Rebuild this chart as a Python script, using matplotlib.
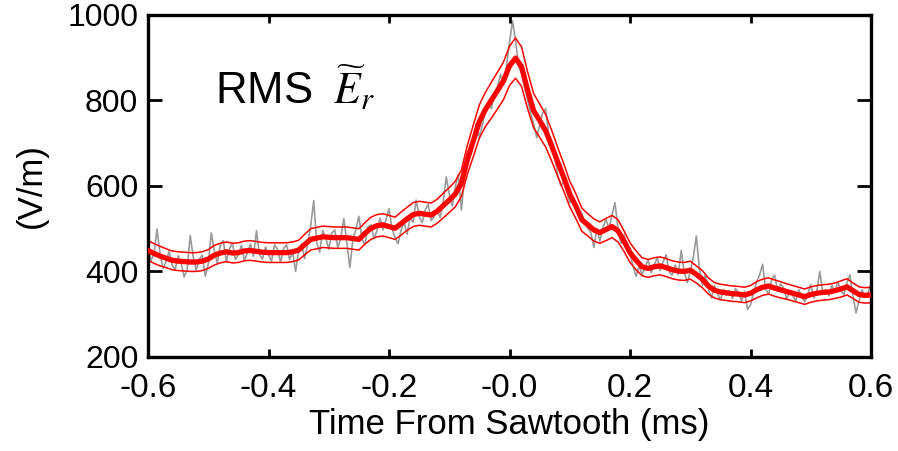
import matplotlib
matplotlib.use("Agg")
import matplotlib.pyplot as plt
import numpy as np

# Сырой сигнал (серый), шаг 0.005 мс от -0.6 до 0.6
e_raw = [
    458, 424, 440, 498, 440, 406, 422, 446, 414, 403, 436, 419, 386, 404, 483, 434,
    402, 427, 437, 388, 416, 489, 449, 418, 461, 471, 422, 451, 466, 427, 438, 460,
    425, 443, 463, 434, 494, 438, 428, 456, 438, 423, 461, 451, 421, 453, 461, 427,
    445, 399, 447, 463, 429, 463, 505, 565, 466, 444, 495, 477, 451, 489, 496, 454,
    478, 523, 466, 408, 474, 497, 528, 476, 461, 503, 508, 476, 494, 523, 496, 520,
    546, 499, 478, 464, 495, 515, 486, 524, 514, 566, 528, 513, 543, 556, 518, 528,
    542, 525, 563, 620, 580, 553, 595, 627, 543, 614, 678, 694, 713, 746, 712, 743,
    775, 790, 780, 815, 830, 860, 835, 880, 935, 985, 940, 880, 862, 830, 800, 770,
    745, 712, 740, 770, 780, 720, 690, 668, 625, 600, 608, 585, 560, 572, 550, 530,
    535, 512, 500, 490, 455, 500, 470, 502, 520, 500, 530, 560, 500, 465, 485, 455,
    438, 412, 388, 412, 392, 408, 427, 396, 413, 432, 401, 422, 438, 397, 391, 414,
    392, 448, 397, 373, 399, 432, 482, 407, 367, 391, 357, 337, 366, 348, 332, 357,
    343, 354, 336, 359, 349, 330, 353, 310, 321, 349, 374, 391, 416, 358, 346, 381,
    390, 354, 370, 360, 334, 353, 343, 330, 356, 339, 328, 346, 368, 337, 354, 399,
    347, 357, 342, 367, 351, 374, 353, 345, 373, 391, 341, 302, 330, 356, 339, 350,
    370,
]

# Сглаженное среднее (красная толстая), шаг 0.01 мс
e_fit = [
    448, 441, 435, 430, 425, 423, 422, 421, 421, 423, 428, 437, 442, 445, 442, 443,
    447, 448, 446, 444, 443, 443, 443, 443, 445, 449, 462, 474, 477, 480, 479, 478,
    478, 478, 476, 474, 488, 500, 506, 508, 504, 500, 511, 522, 532, 535, 533, 531,
    540, 553, 566, 580, 605, 660, 705, 750, 778, 800, 822, 845, 880, 898, 878, 823,
    775, 752, 728, 693, 655, 619, 580, 552, 520, 508, 496, 490, 497, 504, 494, 470,
    443, 425, 410, 406, 410, 412, 408, 403, 400, 399, 402, 392, 381, 365, 355, 351,
    349, 347, 346, 344, 348, 356, 362, 365, 360, 356, 352, 348, 344, 340, 345, 348,
    350, 351, 354, 358, 363, 354, 345, 343, 344,
]
# Полуширина коридора (тонкие красные линии)
e_err = [
    23, 23, 23, 22, 22, 22, 22, 22, 22, 22, 22, 23, 23, 23, 23, 23,
    23, 23, 23, 23, 23, 23, 23, 23, 23, 23, 24, 25, 25, 25, 25, 25,
    25, 25, 25, 25, 25, 26, 26, 26, 26, 26, 27, 27, 28, 28, 28, 28,
    28, 29, 29, 30, 31, 34, 37, 39, 40, 42, 43, 44, 46, 47, 46, 43,
    40, 39, 38, 36, 34, 32, 30, 29, 27, 26, 26, 25, 26, 26, 26, 24,
    23, 22, 21, 21, 21, 21, 21, 21, 21, 21, 21, 20, 20, 19, 18, 18,
    18, 18, 18, 18, 18, 19, 19, 19, 19, 19, 18, 18, 18, 18, 18, 18,
    18, 18, 18, 19, 19, 18, 18, 18, 18,
]

x_ticks = [-0.6, -0.4, -0.2, 0.0, 0.2, 0.4, 0.6]
x_labels = ["-0.6", "-0.4", "-0.2", "-0.0", "0.2", "0.4", "0.6"]
y_ticks = [200, 400, 600, 800, 1000]

plt.rcParams["font.family"] = ["Liberation Sans", "DejaVu Sans"]
plt.rcParams["mathtext.fontset"] = "stix"

t_raw = np.linspace(-0.6, 0.6, len(e_raw))
t_fit = np.linspace(-0.6, 0.6, len(e_fit))
fit = np.array(e_fit, dtype=float)
err = np.array(e_err, dtype=float)

fig = plt.figure(figsize=(8.98, 4.51), dpi=100)
ax = fig.add_axes([0.1648, 0.2095, 0.8052, 0.7583])

ax.plot(t_raw, e_raw, color="#9a9a9a", lw=1.2, zorder=1)
ax.plot(t_fit, fit + err, color="red", lw=1.1, zorder=2)
ax.plot(t_fit, fit - err, color="red", lw=1.1, zorder=2)
ax.plot(t_fit, fit, color="red", lw=3.8, zorder=3, solid_joinstyle="round")

ax.set_xlim(-0.6, 0.6)
ax.set_ylim(200, 1000)
ax.set_xticks(x_ticks)
ax.set_xticklabels(x_labels, fontsize=24)
ax.set_yticks(y_ticks)
ax.set_yticklabels([str(v) for v in y_ticks], fontsize=23)

ax.tick_params(axis="x", direction="in", length=6, width=2, top=True, pad=12)
ax.tick_params(axis="y", direction="in", length=10, width=2, right=True, pad=7)
for s in ax.spines.values():
    s.set_linewidth(2.4)

ax.set_xlabel("Time From Sawtooth (ms)", fontsize=25, labelpad=3)
ax.set_ylabel("(V/m)", fontsize=25, labelpad=14)

ax.text(-0.489, 790, r"RMS $\;\widetilde{E}_r$", fontsize=31.5, va="baseline", ha="left")

fig.savefig("out.png", dpi=100)
